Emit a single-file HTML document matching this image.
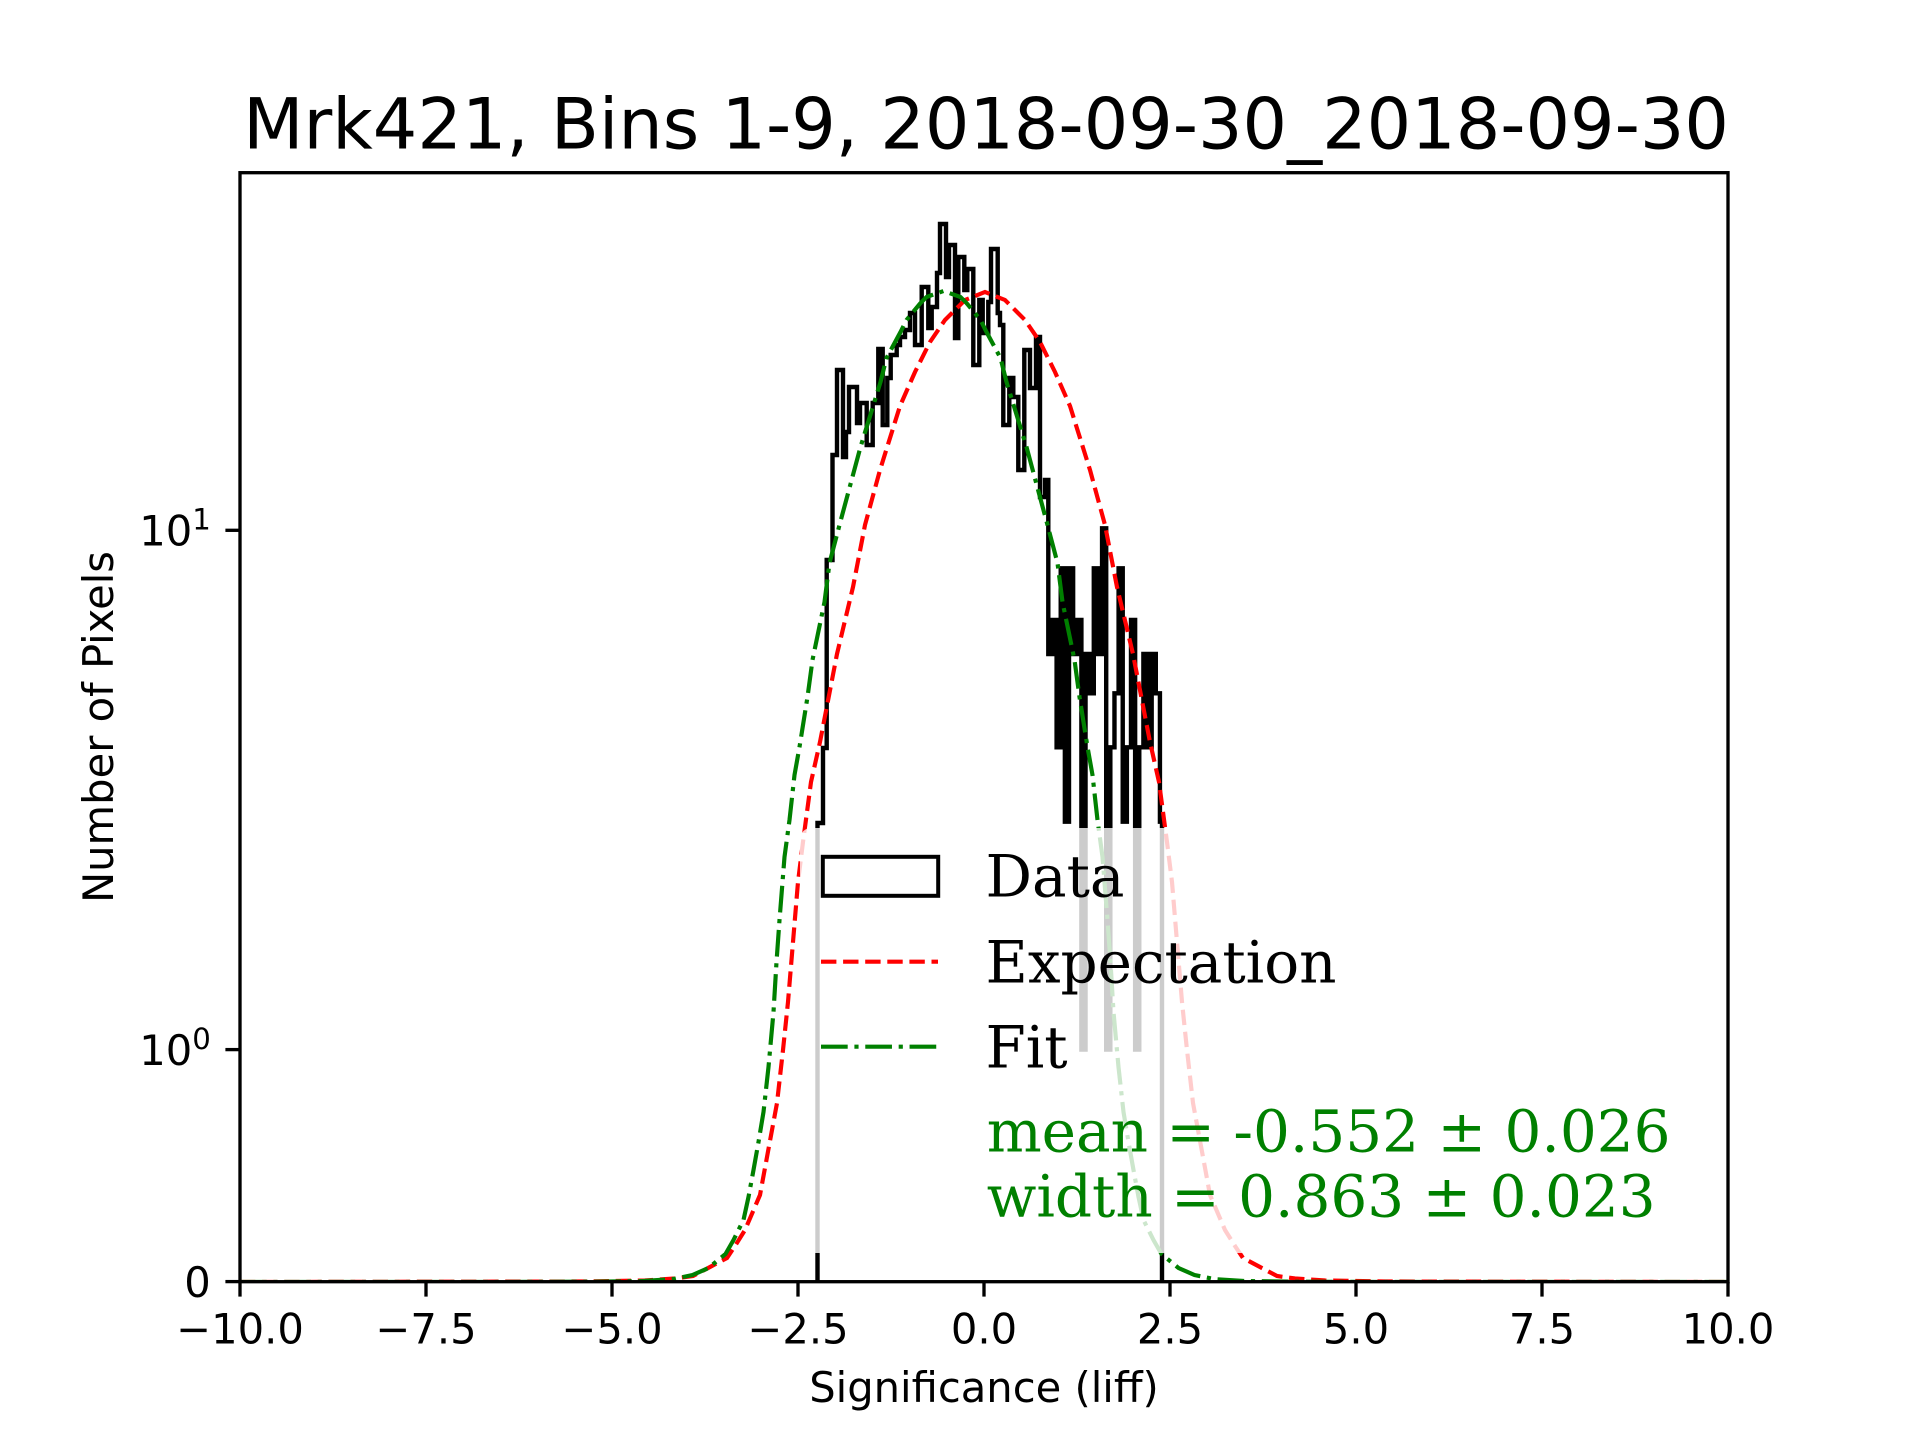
<!DOCTYPE html>
<html>
<head>
<meta charset="utf-8">
<style>
html,body{margin:0;padding:0;background:#ffffff;}
svg{display:block;}
</style>
</head>
<body>
<svg width="1920" height="1440" viewBox="0 0 1920 1440" xmlns="http://www.w3.org/2000/svg">
<defs>
<clipPath id="ax"><rect x="240" y="172.7" width="1488" height="1109.3"/></clipPath>
</defs>
<rect x="0" y="0" width="1920" height="1440" fill="#ffffff"/>

<!-- Title -->
<text x="986" y="148.3" text-anchor="middle" font-family="DejaVu Sans, Liberation Sans, sans-serif" font-size="70" fill="#000">Mrk421, Bins 1-9, 2018-09-30_2018-09-30</text>

<g clip-path="url(#ax)">
<!-- Histogram (step) -->
<path fill="none" stroke="#000" stroke-width="4.4" stroke-linejoin="miter" d="M 817.5 1290 V 823 H 823 V 748 H 826.7 V 560 H 832.5 V 455 H 837 V 370 H 843 V 457 H 846 V 432 H 849 V 387 H 857 V 423 H 860 V 403 H 866.7 V 445 H 872.7 V 403 H 878.3 V 349 H 882.7 V 425 H 887.3 V 378 H 890.7 V 355 H 896.7 V 345 H 900 V 337 H 905 V 330 H 910 V 313 H 915 V 345 H 921.7 V 287 H 928.3 V 328 H 931.7 V 307 H 937 V 273 H 940 V 224 H 946 V 277 H 949 V 245 H 955 V 338 H 958.3 V 257 H 964.3 V 290 H 967.3 V 269 H 973.3 V 365 H 979.3 V 300 H 982.7 V 333 H 988.3 V 302 H 991 V 249 H 997.7 V 313 H 1000 V 325 H 1003.3 V 425 H 1009.3 V 378 H 1013.3 V 397 H 1018.3 V 470 H 1024.3 V 350 H 1030 V 388 H 1036 V 337 H 1040 V 497 H 1045 V 480 H 1048.3 V 654 H 1052.47 V 620 H 1056.6 V 747.3 H 1060.73 V 568.3 H 1064.87 V 821.7 H 1069 V 568.3 H 1073.13 V 654 H 1077.27 V 620 H 1081.4 V 1049.6 H 1085.53 V 654 H 1089.67 V 693.3 H 1093.8 V 568.3 H 1097.93 V 654 H 1102.07 V 528.3 H 1106.2 V 1049.6 H 1110.33 V 747.3 H 1114.47 V 693.3 H 1118.6 V 568.3 H 1122.73 V 821.7 H 1126.87 V 747.3 H 1131 V 620 H 1135.13 V 1049.6 H 1139.27 V 747.3 H 1143.4 V 654 H 1147.53 V 747.3 H 1151.67 V 654 H 1155.8 V 693.3 H 1159.93 V 821.7 H 1162 V 1290"/>

<!-- Expectation (red dashed) -->
<polyline fill="none" stroke="#ff0000" stroke-width="4.17" stroke-dasharray="15.4 6.7" points="240,1282 585,1281.5 645,1280.5 675,1278.5 693,1276 710,1267 727,1258 735,1246 745,1230 760,1195 767,1157 777,1103 783,1050 788,1002 793,942 798,882 803,842 811,782 820,742 837,654 853,587 865,525 880,470 900,406 915,372 930,342 945,320 965,300 985,292 1005,300 1025,320 1040,342 1055,372 1070,406 1090,470 1105,525 1117,587 1133,654 1150,742 1159,782 1167,842 1172,882 1177,942 1182,1002 1187,1050 1193,1103 1203,1157 1210,1195 1225,1230 1235,1246 1243,1258 1260,1267 1277,1276 1295,1278.5 1325,1280.5 1385,1281.5 1728,1282"/>

<!-- Fit (green dash-dot) -->
<polyline fill="none" stroke="#008000" stroke-width="4.17" stroke-dasharray="26.7 6.7 4.17 6.7" points="240,1282 493.5,1282 593.5,1281.7 643.5,1281 673.5,1279 692.5,1275 708.5,1268 725.5,1254 733.5,1240 743.5,1220 748.5,1197 753.5,1170 758.5,1142 763.5,1112 768.5,1067 773.5,1012 776.5,962 779.5,920 784.5,857 789.5,820 794.5,775 799.5,747 807.5,697 812.5,660 824.5,602 829.5,563 839.5,525 860.5,447 880.5,382 886.5,358 900.5,332 906.5,320 920.5,303 926.5,297 943.5,291 960.5,297 966.5,303 980.5,320 986.5,332 1000.5,358 1006.5,382 1026.5,447 1047.5,525 1057.5,563 1062.5,602 1074.5,660 1079.5,697 1087.5,747 1092.5,775 1097.5,820 1102.5,857 1107.5,920 1110.5,962 1113.5,1012 1118.5,1067 1123.5,1112 1128.5,1142 1133.5,1170 1138.5,1197 1143.5,1220 1153.5,1240 1161.5,1254 1178.5,1268 1194.5,1275 1213.5,1279 1243.5,1281 1293.5,1281.7 1393.5,1282 1728,1282"/>
</g>

<!-- Legend box -->
<rect x="800" y="828" width="899" height="425" rx="11" ry="11" fill="#ffffff" fill-opacity="0.8" stroke="none"/>
<!-- Legend handles -->
<rect x="822.8" y="856.8" width="115.4" height="39" fill="none" stroke="#000" stroke-width="4"/>
<line x1="821" y1="961.7" x2="938" y2="961.7" stroke="#ff0000" stroke-width="4.17" stroke-dasharray="15.4 6.7"/>
<line x1="821" y1="1046.7" x2="938" y2="1046.7" stroke="#008000" stroke-width="4.17" stroke-dasharray="26.7 6.7 4.17 6.7"/>
<!-- Legend labels -->
<g font-family="DejaVu Serif, Liberation Serif, serif" font-size="58" fill="#000">
<text x="985.5" y="896.7">Data</text>
<text x="985.5" y="982.7">Expectation</text>
<text x="985.5" y="1067.7">Fit</text>
</g>
<g font-family="DejaVu Serif, Liberation Serif, serif" font-size="58" fill="#008000">
<text x="986.7" y="1151.7">mean = -0.552 ± 0.026</text>
<text x="986.7" y="1216.7">width = 0.863 ± 0.023</text>
</g>

<!-- Spines -->
<rect x="240" y="172.7" width="1488" height="1109" fill="none" stroke="#000" stroke-width="3.33"/>

<!-- X ticks -->
<g stroke="#000" stroke-width="3.33">
<line x1="240" y1="1282" x2="240" y2="1296.6"/>
<line x1="426" y1="1282" x2="426" y2="1296.6"/>
<line x1="612" y1="1282" x2="612" y2="1296.6"/>
<line x1="798" y1="1282" x2="798" y2="1296.6"/>
<line x1="984" y1="1282" x2="984" y2="1296.6"/>
<line x1="1170" y1="1282" x2="1170" y2="1296.6"/>
<line x1="1356" y1="1282" x2="1356" y2="1296.6"/>
<line x1="1542" y1="1282" x2="1542" y2="1296.6"/>
<line x1="1728" y1="1282" x2="1728" y2="1296.6"/>
<!-- Y ticks -->
<line x1="225.4" y1="1281.6" x2="240" y2="1281.6"/>
<line x1="225.4" y1="1049.6" x2="240" y2="1049.6"/>
<line x1="225.4" y1="530.3" x2="240" y2="530.3"/>
</g>

<g font-family="DejaVu Sans, Liberation Sans, sans-serif" font-size="41.67" fill="#000">
<text x="240" y="1343.3" text-anchor="middle">−10.0</text>
<text x="426" y="1343.3" text-anchor="middle">−7.5</text>
<text x="612" y="1343.3" text-anchor="middle">−5.0</text>
<text x="798" y="1343.3" text-anchor="middle">−2.5</text>
<text x="984" y="1343.3" text-anchor="middle">0.0</text>
<text x="1170" y="1343.3" text-anchor="middle">2.5</text>
<text x="1356" y="1343.3" text-anchor="middle">5.0</text>
<text x="1542" y="1343.3" text-anchor="middle">7.5</text>
<text x="1728" y="1343.3" text-anchor="middle">10.0</text>

<text x="210.8" y="1297" text-anchor="end">0</text>
<text x="210.8" y="1065" text-anchor="end">10<tspan dy="-16" font-size="29.2">0</tspan></text>
<text x="210.8" y="545.3" text-anchor="end">10<tspan dy="-16" font-size="29.2">1</tspan></text>

<text x="984" y="1402" text-anchor="middle">Significance (liff)</text>
<text transform="translate(113,727) rotate(-90)" text-anchor="middle">Number of Pixels</text>
</g>
</svg>
</body>
</html>
